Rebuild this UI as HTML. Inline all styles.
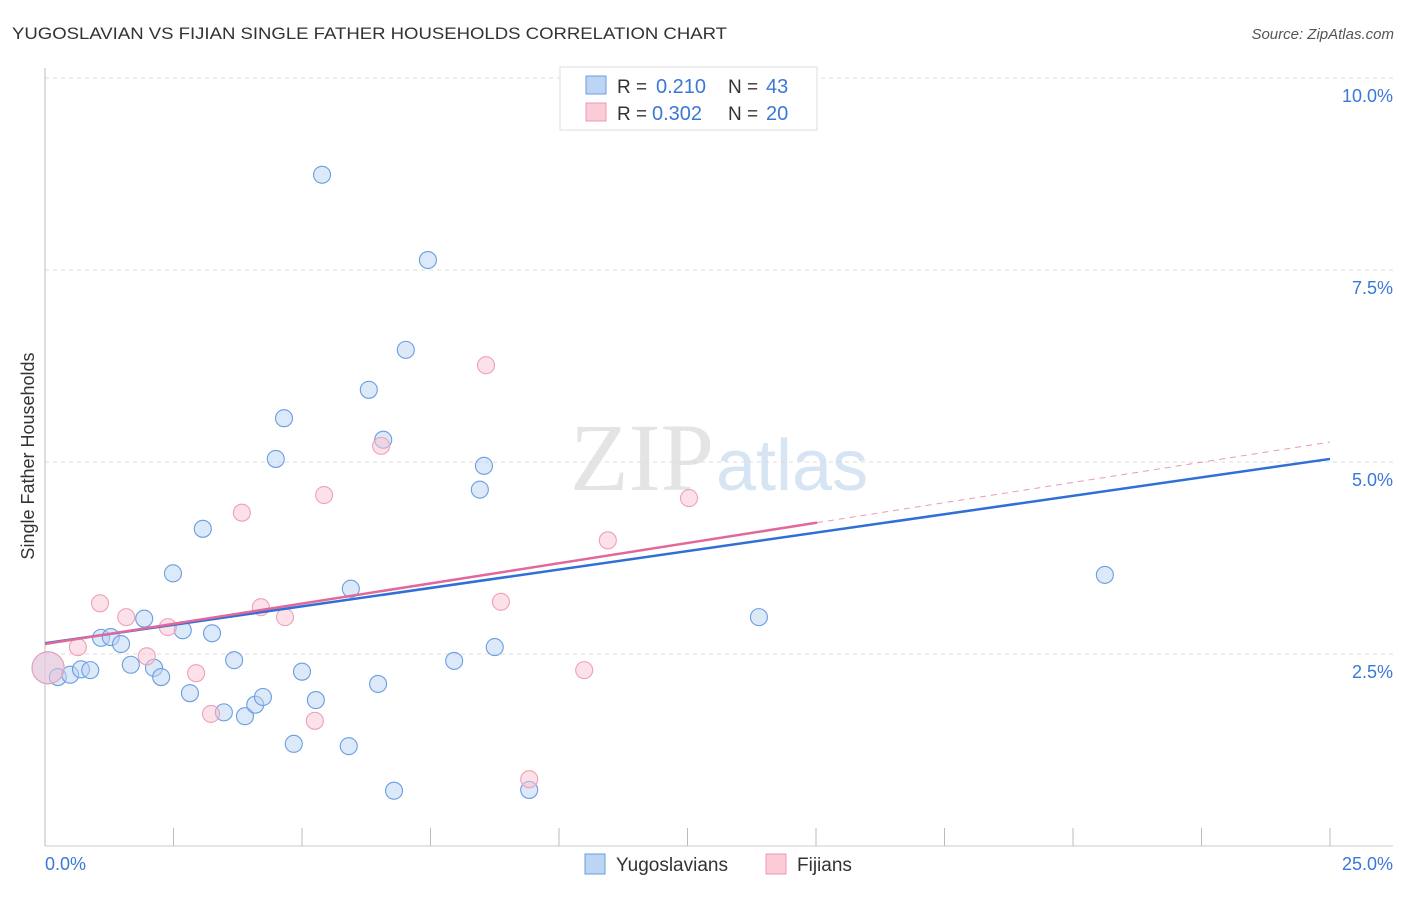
<!DOCTYPE html>
<html><head><meta charset="utf-8"><style>
body{margin:0;background:#fff;font-family:"Liberation Sans",sans-serif}
</style></head><body>
<svg width="1406" height="892" xmlns="http://www.w3.org/2000/svg" font-family="Liberation Sans, sans-serif">
<text x="12" y="39" font-size="17" fill="#333" textLength="715" lengthAdjust="spacingAndGlyphs">YUGOSLAVIAN VS FIJIAN SINGLE FATHER HOUSEHOLDS CORRELATION CHART</text>
<text x="1394" y="39" font-size="15" fill="#555" text-anchor="end" font-style="italic">Source: ZipAtlas.com</text>
<text x="714" y="490" font-size="96" fill="#e4e4e4" text-anchor="end" font-family="Liberation Serif, serif">ZIP</text>
<text x="716" y="490" font-size="72" fill="#d6e4f4">atlas</text>
<text transform="translate(34,456) rotate(-90)" font-size="18" fill="#333" text-anchor="middle">Single Father Households</text>
<g id="grid"></g><g id="ticks"></g><g id="marks"></g>
<g>
<rect x="560" y="67" width="257" height="63" fill="#fff" stroke="#ddd"/>
<rect x="586" y="76" width="20" height="18" fill="#bcd5f5" stroke="#6a9de0"/>
<rect x="586" y="103" width="20" height="18" fill="#fbcbd8" stroke="#ee99b2"/>
<text x="617" y="93" font-size="19" fill="#333">R =</text>
<text x="656" y="93" font-size="20" fill="#3a78d8">0.210</text>
<text x="728" y="93" font-size="19" fill="#333">N =</text>
<text x="766" y="93" font-size="20" fill="#3a78d8">43</text>
<text x="617" y="120" font-size="19" fill="#333">R =</text>
<text x="652" y="120" font-size="20" fill="#3a78d8">0.302</text>
<text x="728" y="120" font-size="19" fill="#333">N =</text>
<text x="766" y="120" font-size="20" fill="#3a78d8">20</text>
</g>
<g>
<rect x="585" y="854" width="20" height="20" fill="#bcd5f5" stroke="#6a9de0"/>
<text x="616" y="871" font-size="19" fill="#333">Yugoslavians</text>
<rect x="766" y="854" width="20" height="20" fill="#fbcbd8" stroke="#ee99b2"/>
<text x="797" y="871" font-size="19" fill="#333">Fijians</text>
</g>
</svg>
<script>
const xTicks=[0,2.5,5,7.5,10,12.5,15,17.5,20,22.5,25];
const yTicks=[2.5,5,7.5,10];
const yTickLabels=["2.5%","5.0%","7.5%","10.0%"];
const blueX=[0.06,0.25,0.49,0.70,0.88,1.09,1.28,1.48,1.67,1.93,2.12,2.26,2.49,2.68,2.82,3.07,3.25,3.48,3.68,3.89,4.09,4.24,4.49,4.65,4.84,5.00,5.27,5.39,5.91,5.95,6.30,6.48,6.58,6.79,7.02,7.45,7.96,8.46,8.54,8.75,9.42,13.89,20.62];
const blueY=[2.32,2.20,2.23,2.30,2.29,2.71,2.72,2.63,2.36,2.96,2.32,2.20,3.55,2.81,1.99,4.13,2.77,1.74,2.42,1.69,1.84,1.94,5.04,5.57,1.33,2.27,1.90,8.74,1.30,3.35,5.94,2.11,5.29,0.72,6.46,7.63,2.41,4.64,4.95,2.59,0.73,2.98,3.53];
const pinkX=[0.06,0.64,1.07,1.58,1.98,2.39,2.94,3.23,3.83,4.20,4.67,5.25,5.43,6.54,8.58,8.87,9.42,10.49,10.95,12.53];
const pinkY=[2.32,2.59,3.16,2.98,2.47,2.85,2.25,1.72,4.34,3.11,2.98,1.63,4.57,5.21,6.26,3.18,0.87,2.29,3.98,4.53];
const blueLine=[2.64,5.04];
const pinkLine=[2.63,5.26];
const pinkSolidEnd=15.02;
const NS="http://www.w3.org/2000/svg";
const X=v=>45+v/25*1285, Y=v=>846-v/2.5*192;
function mk(tag,attrs,parent){const e=document.createElementNS(NS,tag);for(const k in attrs)e.setAttribute(k,attrs[k]);document.getElementById(parent).appendChild(e);return e;}
yTicks.forEach((t,i)=>{
 const g=mk('line',{x1:45,x2:1393,y1:Y(t),y2:Y(t),stroke:'#ddd','stroke-dasharray':'4,4'},'grid');
 
 
 const l=mk('text',{x:1393,y:Y(t)+24,'font-size':18,fill:'#3a78d8','text-anchor':'end'},'grid');l.textContent=yTickLabels[i];
 
 
});
const ax=mk('line',{x1:45,x2:1393,y1:846,y2:846,stroke:'#ccc'},'ticks');


const ay=mk('line',{x1:45,x2:45,y1:68,y2:846,stroke:'#bbb'},'ticks');


xTicks.forEach(t=>{const e=mk('line',{x1:X(t),x2:X(t),y1:828,y2:846,stroke:'#bbb'},'ticks');
 
 });
const xl0=mk('text',{x:45,y:870,'font-size':18,fill:'#3a78d8'},'ticks');xl0.textContent='0.0%';


const xl1=mk('text',{x:1393,y:870,'font-size':18,fill:'#3a78d8','text-anchor':'end'},'ticks');xl1.textContent='25.0%';


function pts(xs,ys,fill,stroke,name){xs.forEach((x,i)=>{const c=mk('circle',{cx:X(x),cy:Y(ys[i]),r:i===0?16:8.5,fill:fill,'fill-opacity':0.5,stroke:stroke,'stroke-width':1.1},'marks');
 
 });}
pts(blueX,blueY,'#b9d3f3','#6a9de0','point-yugoslavian');
pts(pinkX,pinkY,'#f9c4d3','#efa0b8','point-fijian');
const bl=mk('line',{x1:X(0),y1:Y(blueLine[0]),x2:X(25),y2:Y(blueLine[1]),stroke:'#2f6fd6','stroke-width':2.5},'marks');


const py=v=>pinkLine[0]+(pinkLine[1]-pinkLine[0])*v/25;
const pl=mk('line',{x1:X(0),y1:Y(pinkLine[0]),x2:X(pinkSolidEnd),y2:Y(py(pinkSolidEnd)),stroke:'#e0689a','stroke-width':2.5},'marks');


const pd=mk('line',{x1:X(pinkSolidEnd),y1:Y(py(pinkSolidEnd)),x2:X(25),y2:Y(pinkLine[1]),stroke:'#e89ab8','stroke-width':1,'stroke-dasharray':'6,5'},'marks');


</script>
</body></html>
